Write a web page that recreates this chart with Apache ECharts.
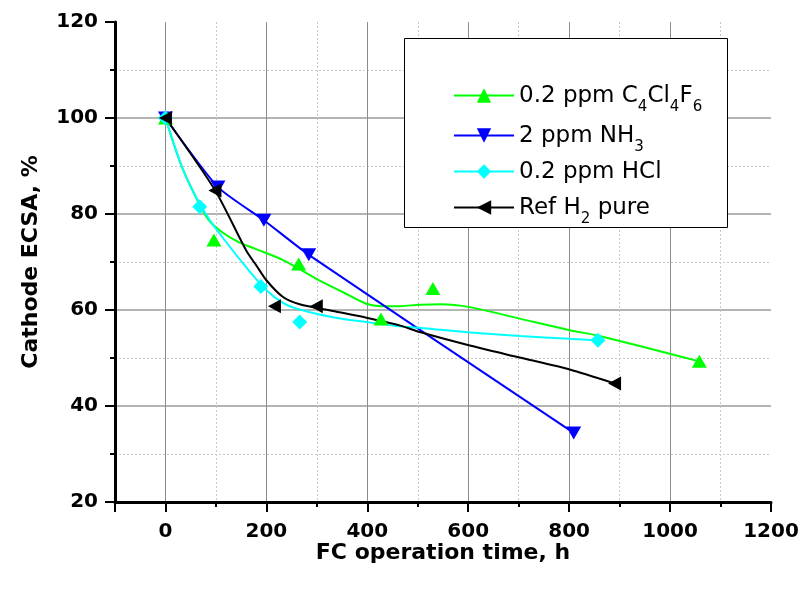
<!DOCTYPE html>
<html><head><meta charset="utf-8">
<script src="https://cdn.jsdelivr.net/npm/echarts@6/dist/echarts.min.js"></script>
<style>html,body{margin:0;padding:0;background:#fff}#c{width:803px;height:590px}</style>
</head><body><div id="c"></div>
<script>
// ---- data ----
const seriesNames = ['0.2 ppm C4Cl4F6', '2 ppm NH3', '0.2 ppm HCl', 'Ref H2 pure'];
const seriesColors = ['#00ff00', '#0000ff', '#00ffff', '#000000'];

// measured points (markers)
const c4Points  = [[0,100],[96,74.6],[264,69.6],[427,58.1],[530,64.5],[1058,49.3]];
const nh3Points = [[0,100],[104,85.6],[195,78.7],[284,71.5],[809,34.4]];
const hclPoints = [[0,100],[68,81.5],[189,64.9],[266,57.5],[857,53.7]];
const refPoints = [[0,100],[98,84.9],[216,60.8],[299,60.8],[890,44.7]];

// fitted (B-spline) curves
const c4Curve  = [[0,100],[30,90.5],[58,84],[84,79],[111,76.3],[144,74.2],[177,72.8],[233,70.4],[299,66.5],[352,63.7],[398,61.3],[430,60.8],[464,60.8],[504,61.1],[545,61.2],[603,60.6],[702,58.2],[801,55.8],[860,54.6],[1058,49.3]];
const hclCurve = [[0,100],[32,90],[58,84],[88,78.7],[114,75],[157,69.3],[200,64.1],[233,61.5],[266,60.1],[332,58.5],[398,57.5],[464,56.6],[523,56.1],[603,55.3],[702,54.6],[801,54],[857,53.7]];
const refCurve = [[0,100],[98,85],[160,72.4],[180,69.3],[200,66.2],[233,62.7],[266,61.2],[332,59.8],[398,58.4],[464,56.8],[504,55.4],[603,52.6],[702,50.1],[801,47.6],[890,44.7]];

// axes
const xRange = [-100, 1200];
const yRange = [20, 120];
const yInterval = 20;
const xLabel = 'FC operation time, h';
const yLabel = 'Cathode ECSA, %';

// ---- helpers ----
function richName(name) {
  let out = '', last = 0, m;
  const re = /([A-Za-z])(\d+)/g;
  while ((m = re.exec(name))) {
    out += '{n|' + name.slice(last, m.index + 1) + '}{s|' + m[2] + '}';
    last = m.index + m[0].length;
  }
  if (last < name.length) out += '{n|' + name.slice(last) + '}';
  return out;
}

const symbols = ['triangle', 'triangle', 'diamond', 'triangle'];
const rotations = [0, 180, 0, 90];
const sizes = [[15,13],[15,13],[15,15],[14,13]];
const legendTops = [76, 116, 156, 188];

const boldFont = {fontFamily: 'DejaVu Sans', fontWeight: 'bold', color: '#000'};

const chart = echarts.init(document.getElementById('c'), null, {renderer: 'canvas'});

function lineSeries(i, data, smooth, showSymbol) {
  return {
    name: seriesNames[i], type: 'line', data: data, smooth: smooth,
    showSymbol: showSymbol, symbol: symbols[i], symbolRotate: rotations[i], symbolSize: sizes[i],
    lineStyle: {color: seriesColors[i], width: 2},
    itemStyle: {color: seriesColors[i]},
    emphasis: {disabled: true}, z: 2
  };
}
function markerSeries(i, data) {
  return {
    name: 'pts' + i, type: 'scatter', data: data,
    symbol: symbols[i], symbolRotate: rotations[i], symbolSize: sizes[i],
    itemStyle: {color: seriesColors[i], opacity: 1},
    emphasis: {disabled: true}, z: 3
  };
}

const axisCommon = {
  type: 'value',
  axisLine: {show: true, onZero: false, lineStyle: {color: '#000', width: 3}},
  axisTick: {show: true, length: 10, lineStyle: {color: '#000', width: 2}},
  minorTick: {show: true, splitNumber: 2, length: 5, lineStyle: {color: '#000', width: 2}},
  minorSplitLine: {show: true, lineStyle: {color: '#c8c8c8', width: 1, type: [2, 2]}},
  nameLocation: 'middle',
  nameMoveOverlap: false,
  nameTextStyle: Object.assign({fontSize: 22}, boldFont)
};

const option = {
  animation: false,
  backgroundColor: '#fff',
  grid: {left: 115, right: 32, top: 22, bottom: 88, containLabel: false},
  xAxis: Object.assign({}, axisCommon, {
    min: xRange[0], max: xRange[1], splitNumber: 6,
    name: xLabel, nameGap: 40,
    axisLabel: Object.assign({fontSize: 20, margin: 20, formatter: v => (v < 0 ? '' : String(v))}, boldFont),
    splitLine: {show: true, showMinLine: false, showMaxLine: false, lineStyle: {color: '#8c8c8c', width: 1}}
  }),
  yAxis: Object.assign({}, axisCommon, {
    min: yRange[0], max: yRange[1], interval: yInterval,
    name: yLabel, nameGap: 73,
    axisLabel: Object.assign({fontSize: 20, margin: 17}, boldFont),
    splitLine: {show: true, showMinLine: false, showMaxLine: false, lineStyle: {color: '#b4b4b4', width: 2}}
  }),
  graphic: [{
    type: 'rect', z: 10,
    shape: {x: 404.5, y: 38.5, width: 323, height: 189},
    style: {fill: '#fff', stroke: '#000', lineWidth: 1}
  }],
  legend: seriesNames.map((n, i) => ({
    data: [n], left: 453, top: legendTops[i], orient: 'vertical',
    itemWidth: 60, itemHeight: 18, padding: 0, z: 20, selectedMode: false,
    formatter: richName,
    textStyle: {
      color: '#000', fontFamily: 'DejaVu Sans', fontSize: 23,
      rich: {
        n: {fontSize: 23, fontFamily: 'DejaVu Sans', color: '#000', lineHeight: 26, padding: [5, 0, 3, 0]},
        s: {fontSize: 15, fontFamily: 'DejaVu Sans', color: '#000', lineHeight: 11, padding: [24, 0, 0, 0]}
      }
    }
  })),
  series: [
    lineSeries(0, c4Curve, 0.3, false),
    lineSeries(1, nh3Points, 0.2, true),
    lineSeries(2, hclCurve, 0.3, false),
    lineSeries(3, refCurve, 0.25, false),
    markerSeries(0, c4Points),
    markerSeries(2, hclPoints),
    markerSeries(3, refPoints)
  ]
};
chart.setOption(option);
</script>
</body></html>
